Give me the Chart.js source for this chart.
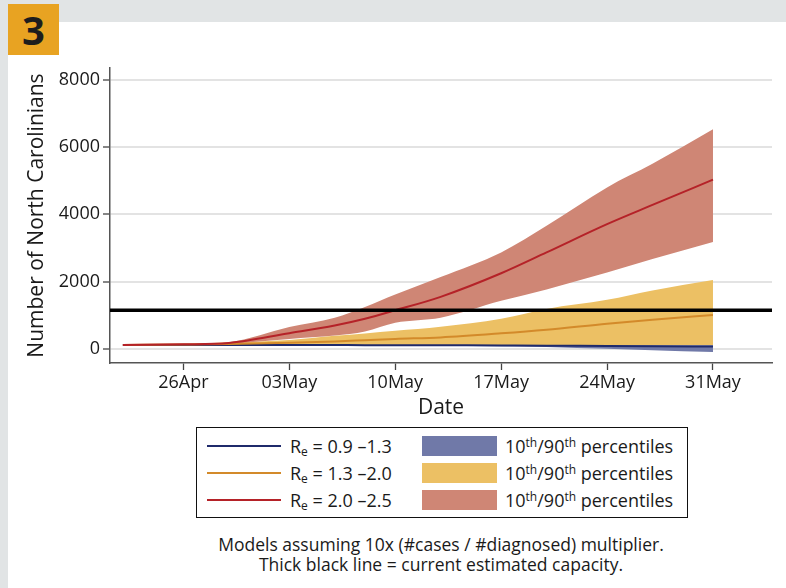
<!DOCTYPE html>
<html>
<head>
<meta charset="utf-8">
<script src="https://cdn.jsdelivr.net/npm/chart.js@4.4.1/dist/chart.umd.min.js"></script>
<style>
  html, body { margin: 0; padding: 0; }
  body { width: 786px; height: 588px; background: #e1e4e5; position: relative; overflow: hidden;
         font-family: "Open Sans", sans-serif; color: #1a1a1a; }
  #panel { position: absolute; left: 8px; top: 22px; width: 778px; height: 566px; background: #fff; }
  #badge { position: absolute; left: 8px; top: 4px; width: 51px; height: 51px; background: #e8a322;
           font: bold 40px "Open Sans", sans-serif; text-align: center; line-height: 51px; color: #1d1d1d; }
  #wrap { position: absolute; left: 8px; top: 22px; width: 778px; height: 400px; }
  #legend { position: absolute; left: 196px; top: 427px; width: 490px; height: 89px;
            border: 1.5px solid #111; font-size: 18px; }
  .row { position: absolute; left: 0; height: 27px; width: 100%; }
  .ln { position: absolute; left: 10px; width: 74px; height: 2px; top: 12px; }
  .lt { position: absolute; left: 93px; top: 0; line-height: 26px; white-space: nowrap; }
  .sw { position: absolute; left: 225px; width: 75px; height: 20px; top: 3px; }
  .st { position: absolute; left: 308px; top: 0; line-height: 26px; white-space: nowrap; }
  sub { font-size: 12px; vertical-align: -3px; line-height: 0; }
  sup { font-size: 12px; vertical-align: 6px; line-height: 0; }
  #caption { position: absolute; left: 141px; width: 600px; top: 534px; text-align: center;
             font-size: 17.5px; line-height: 20px; }
</style>
</head>
<body>
<div id="panel"></div>
<div id="badge">3</div>
<div id="wrap"><canvas id="myChart" width="778" height="400"></canvas></div>
<div id="legend"></div>
<div id="caption">Models assuming 10x (#cases / #diagnosed) multiplier.<br>Thick black line = current estimated capacity.</div>
<script>
// days since 22Apr
const days = [0, 4, 7, 11, 14, 16, 18, 21, 25, 28, 32, 35, 39];
const tickDays = [4, 11, 18, 25, 32, 39];
const tickLabels = ["26Apr", "03May", "10May", "17May", "24May", "31May"];
const yTicks = [0, 2000, 4000, 6000, 8000];
const capacity = 1150;

const blueMid = [120, 120, 119, 118, 116, 115, 113, 110, 105, 100, 90, 83, 75];
const blueLow = [120, 119, 118, 116, 113, 110, 106, 100, 85, 60, 5, -35, -90];
const blueHigh = [120, 121, 121, 121, 121, 121, 121, 121, 120, 118, 115, 112, 110];

const yellowMid = [120, 135, 150, 185, 225, 262, 300, 345, 465, 573, 752, 870, 1010];
const yellowLow = [120, 120, 119, 118, 118, 118, 118, 118, 118, 118, 116, 114, 112];
const yellowHigh = [120, 150, 200, 270, 390, 460, 540, 660, 900, 1190, 1460, 1740, 2050];

const redMid = [120, 140, 180, 470, 700, 900, 1150, 1550, 2250, 2870, 3710, 4280, 5030];
const redLow = [120, 135, 160, 300, 400, 520, 780, 930, 1430, 1770, 2270, 2670, 3180];
const redHigh = [120, 145, 200, 650, 930, 1250, 1620, 2140, 2870, 3660, 4800, 5500, 6525];

const series = [
  { line: "#1f2a6b", band: "#7079a8", mid: blueMid, low: blueLow, high: blueHigh, lineOrder: 2, bandOrder: 3, text: "0.9 \u20131.3" },
  { line: "#d38a2a", band: "#ecc064", mid: yellowMid, low: yellowLow, high: yellowHigh, lineOrder: 1, bandOrder: 5, text: "1.3 \u20132.0" },
  { line: "#b52228", band: "#cf8675", mid: redMid, low: redLow, high: redHigh, lineOrder: 0, bandOrder: 4, text: "2.0 \u20132.5" },
];

function pts(arr) {
  return days.map((d, i) => ({ x: d, y: arr[i] }));
}

const datasets = [];
series.forEach((s) => {
  datasets.push({
    label: "Re " + s.text + " low",
    data: pts(s.low),
    borderWidth: 0,
    borderColor: "rgba(0,0,0,0)",
    pointRadius: 0,
    fill: false,
    cubicInterpolationMode: "monotone",
    order: s.bandOrder,
  });
  datasets.push({
    label: "Re " + s.text + " 10th/90th percentiles",
    data: pts(s.high),
    borderWidth: 0,
    borderColor: "rgba(0,0,0,0)",
    backgroundColor: s.band,
    pointRadius: 0,
    fill: "-1",
    cubicInterpolationMode: "monotone",
    order: s.bandOrder,
  });
  datasets.push({
    label: "Re = " + s.text,
    data: pts(s.mid),
    borderWidth: 2,
    borderColor: s.line,
    pointRadius: 0,
    fill: false,
    cubicInterpolationMode: "monotone",
    order: s.lineOrder,
  });
});

// thick black capacity line across the plot
const capacityLine = {
  id: "capacityLine",
  afterDatasetsDraw(chart) {
    const { ctx, chartArea, scales } = chart;
    const y = scales.y.getPixelForValue(capacity);
    ctx.save();
    ctx.strokeStyle = "#000";
    ctx.lineWidth = 3.5;
    ctx.beginPath();
    ctx.moveTo(chartArea.left, y);
    ctx.lineTo(chartArea.right, y);
    ctx.stroke();
    ctx.restore();
  },
};

const font = { family: "'Open Sans', sans-serif" };

new Chart(document.getElementById("myChart"), {
  type: "line",
  data: { datasets },
  plugins: [capacityLine],
  options: {
    responsive: false,
    animation: false,
    layout: { padding: { top: 46, right: 14, left: 0, bottom: 0 } },
    plugins: { legend: { display: false }, tooltip: { enabled: false } },
    scales: {
      x: {
        type: "linear",
        min: -0.85,
        max: 42.9,
        afterBuildTicks: (scale) => {
          scale.ticks = tickDays.map((v) => ({ value: v }));
        },
        afterFit: (scale) => {
          scale.height = 59;
        },
        ticks: {
          color: "#1a1a1a",
          font: { ...font, size: 18 },
          padding: 2,
          maxRotation: 0,
          callback: (v) => tickLabels[tickDays.indexOf(v)],
        },
        grid: { drawOnChartArea: false, tickLength: 7, tickColor: "#444", tickWidth: 1.3 },
        border: { color: "#555", width: 1.5 },
        title: {
          display: true,
          text: "Date",
          color: "#1a1a1a",
          font: { ...font, size: 21 },
          padding: { top: 0, bottom: 1 },
        },
      },
      y: {
        min: -416,
        max: 8348,
        afterBuildTicks: (scale) => {
          scale.ticks = yTicks.map((v) => ({ value: v }));
        },
        afterFit: (scale) => {
          scale.width = 102;
        },
        ticks: {
          color: "#1a1a1a",
          font: { ...font, size: 18 },
          padding: 3,
          callback: (v) => String(v),
        },
        grid: { color: "#e3e3e3", lineWidth: 2, tickLength: 7, tickColor: "#444", tickWidth: 1.3 },
        border: { color: "#555", width: 1.5 },
        title: {
          display: true,
          text: "Number of North Carolinians",
          color: "#1a1a1a",
          font: { ...font, size: 21 },
          padding: { top: 16, bottom: 0 },
        },
      },
    },
  },
});

// legend with subscripts / superscripts
const legendBox = document.getElementById("legend");
series.forEach((s, i) => {
  const row = document.createElement("div");
  row.className = "row";
  row.style.top = 5 + i * 27 + "px";
  row.innerHTML =
    `<div class="ln" style="background:${s.line}"></div>` +
    `<div class="lt">R<sub>e</sub> = ${s.text}</div>` +
    `<div class="sw" style="background:${s.band}"></div>` +
    `<div class="st">10<sup>th</sup>/90<sup>th</sup> percentiles</div>`;
  legendBox.appendChild(row);
});
</script>
</body>
</html>
